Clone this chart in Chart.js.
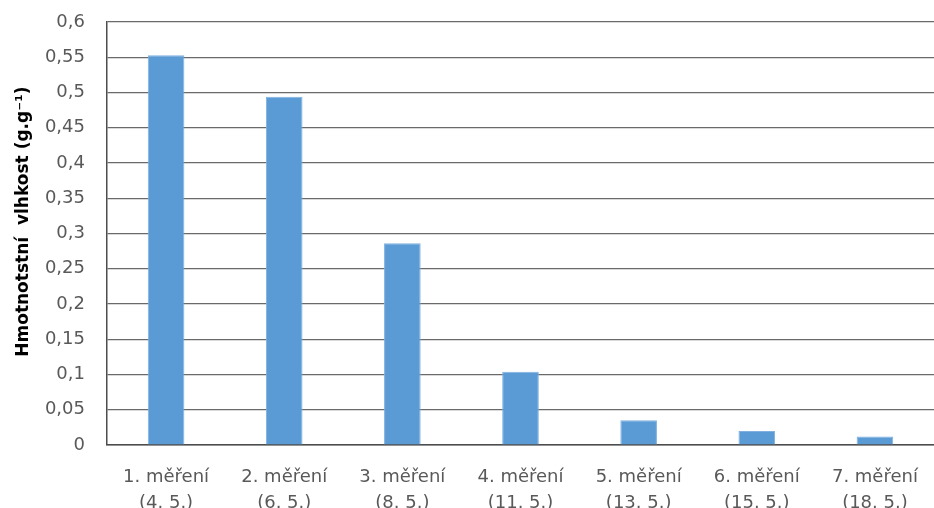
<!DOCTYPE html>
<html>
<head>
<meta charset="utf-8">
<script src="https://cdn.jsdelivr.net/npm/chart.js@4"></script>
<style>
  html, body { margin: 0; padding: 0; background: #ffffff; }
  #wrap { width: 934px; height: 508px; overflow: hidden; }
</style>
</head>
<body>
<div id="wrap"><canvas id="chart" width="934" height="508"></canvas></div>
<script>
// Measurement rounds and their dates
const measurements = ['1. měření', '2. měření', '3. měření', '4. měření', '5. měření', '6. měření', '7. měření'];
const dates = ['(4. 5.)', '(6. 5.)', '(8. 5.)', '(11. 5.)', '(13. 5.)', '(15. 5.)', '(18. 5.)'];
// Gravimetric moisture content (g/g)
const moisture = [0.553, 0.494, 0.286, 0.104, 0.035, 0.020, 0.012];
// leading spaces nudge the rotated title a little above the axis middle
const yTitle = '    Hmotnotstní  vlhkost (g.g\u207B\u00B9)';

const labels = measurements.map((m, i) => [m, dates[i]]);

new Chart(document.getElementById('chart'), {
  type: 'bar',
  data: {
    labels: labels,
    datasets: [{
      data: moisture,
      backgroundColor: '#5B9BD5',
      borderColor: '#7FB0DF',
      borderWidth: 1,
      categoryPercentage: 1.0,
      barPercentage: 0.31
    }]
  },
  options: {
    responsive: false,
    animation: false,
    devicePixelRatio: 1,
    // the plot runs slightly past the right edge of the canvas
    layout: { padding: { top: 22, right: -4, bottom: 0, left: 0 } },
    plugins: { legend: { display: false }, tooltip: { enabled: false } },
    scales: {
      x: {
        grid: { display: false, drawTicks: false },
        border: { display: true, color: '#4d4d4d', width: 1.5 },
        ticks: {
          color: '#595959',
          font: { family: 'DejaVu Sans', size: 18, lineHeight: 1.42 },
          padding: 20,
          maxRotation: 0,
          autoSkip: false
        },
        afterFit: (s) => {
          s.height = 63;
          s.paddingLeft = 0;
          s.paddingRight = 0;
        }
      },
      y: {
        min: 0,
        max: 0.6,
        grid: { color: '#6a6a6a', lineWidth: 1.2, drawTicks: false },
        border: { display: true, color: '#4d4d4d', width: 1.5 },
        ticks: {
          stepSize: 0.05,
          color: '#595959',
          font: { family: 'DejaVu Sans', size: 18 },
          padding: 22,
          callback: (v) => String(Math.round(v * 100) / 100).replace('.', ',')
        },
        title: {
          display: true,
          text: yTitle,
          color: '#000000',
          font: { family: 'DejaVu Sans', size: 17, weight: 'bold' },
          padding: { top: 13, bottom: 0 }
        },
        afterFit: (s) => {
          s.width = 107;
          s.paddingTop = 0;
          s.paddingBottom = 0;
        }
      }
    }
  }
});
</script>
</body>
</html>
